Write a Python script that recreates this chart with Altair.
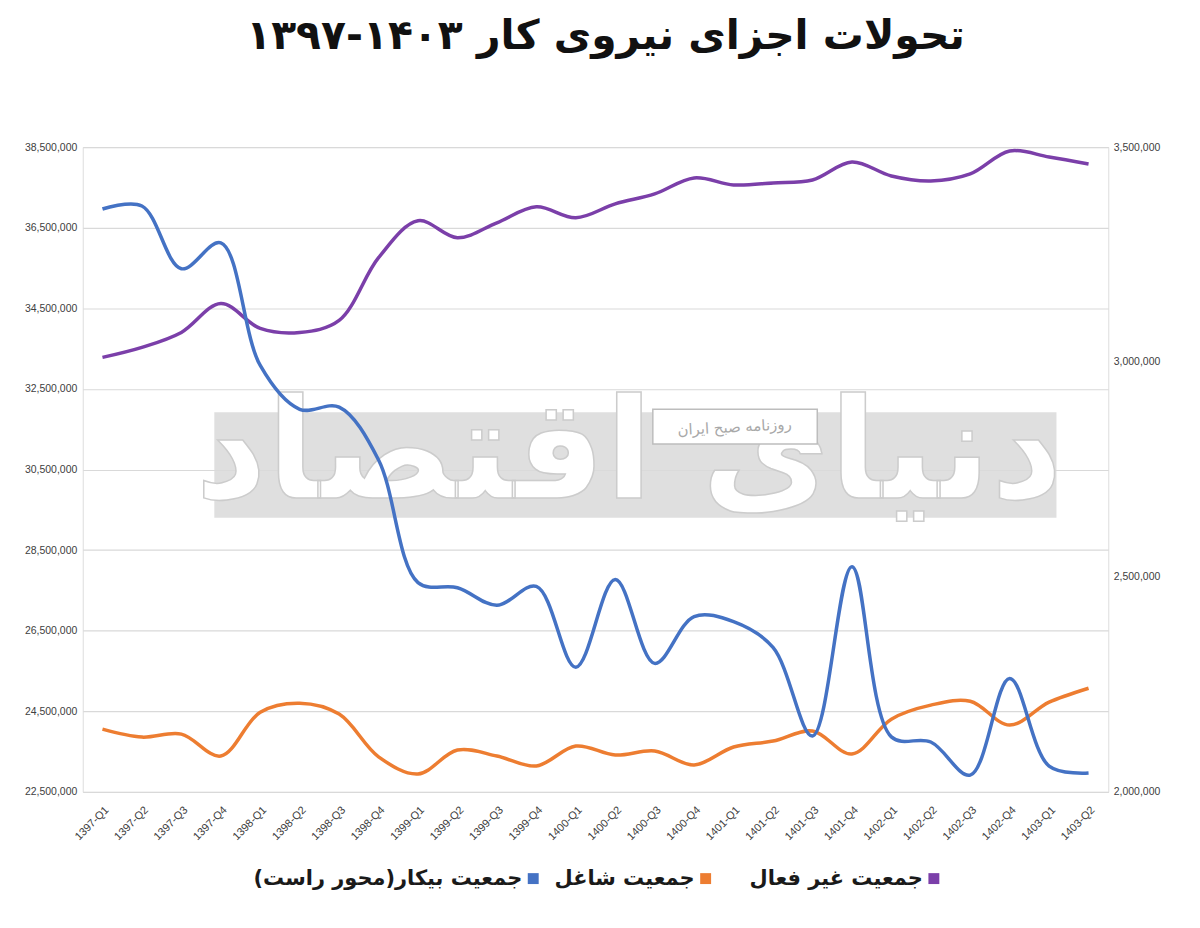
import altair as alt
import pandas as pd

quarters = [
    "1397-Q1", "1397-Q2", "1397-Q3", "1397-Q4",
    "1398-Q1", "1398-Q2", "1398-Q3", "1398-Q4",
    "1399-Q1", "1399-Q2", "1399-Q3", "1399-Q4",
    "1400-Q1", "1400-Q2", "1400-Q3", "1400-Q4",
    "1401-Q1", "1401-Q2", "1401-Q3", "1401-Q4",
    "1402-Q1", "1402-Q2", "1402-Q3", "1402-Q4",
    "1403-Q1", "1403-Q2",
]

# right axis
unemployed = [3356000, 3363000, 3217000, 3277000, 2992000, 2890000, 2895000, 2772000,
              2487000, 2475000, 2434000, 2478000, 2290000, 2494000, 2299000, 2408000,
              2396000, 2336000, 2130000, 2524000, 2128000, 2116000, 2039000, 2264000,
              2060000, 2044000]
# left axis
employed = [24058000, 23860000, 23934000, 23390000, 24478000, 24701000, 24430000, 23370000,
            22945000, 23539000, 23390000, 23143000, 23638000, 23415000, 23514000, 23168000,
            23613000, 23761000, 24009000, 23440000, 24305000, 24652000, 24750000, 24157000,
            24726000, 25072000]
inactive = [33282000, 33530000, 33901000, 34618000, 34000000, 33901000, 34197000, 35756000,
            36671000, 36250000, 36621000, 37017000, 36745000, 37091000, 37338000, 37734000,
            37561000, 37610000, 37684000, 38129000, 37783000, 37660000, 37833000, 38402000,
            38253000, 38080000]

name_unemp = "جمعیت بیکار(محور راست)"
name_emp = "جمعیت شاغل"
name_inact = "جمعیت غیر فعال"

series_names = [name_inact, name_emp, name_unemp]
series_colors = ["#7B3FA9", "#ED7D31", "#4472C4"]

left_ticks = [22500000, 24500000, 26500000, 28500000, 30500000, 32500000, 34500000, 36500000, 38500000]
right_ticks = [2000000, 2500000, 3000000, 3500000]

title_main = "تحولات اجزای نیروی کار"
title_years = "۱۳۹۷-۱۴۰۳"
watermark_big = "دنیای اقتصاد"
watermark_small = "روزنامه صبح ایران"

RLM = "\u200f"
RLE, LRE, PDF = "\u202b", "\u202a", "\u202c"

left_df = pd.DataFrame({
    "q": quarters * 2,
    "v": employed + inactive,
    "s": [name_emp] * len(quarters) + [name_inact] * len(quarters),
})
right_df = pd.DataFrame({"q": quarters, "v": unemployed, "s": name_unemp})

W, H = 1029, 647
label_font = "Liberation Sans"
ar_font = "DejaVu Sans"

x_enc = alt.X("q:O", sort=quarters, title=None,
              scale=alt.Scale(type="point", padding=0.5),
              axis=alt.Axis(labelAngle=-45, labelFontSize=11, labelColor="#404040",
                            labelFont=label_font, ticks=False, domain=False,
                            labelPadding=12))
color_enc = alt.Color("s:N", scale=alt.Scale(domain=series_names, range=series_colors), legend=None)

one = pd.DataFrame({"k": [0]})

wm_rect = alt.Chart(one).mark_rect(color="#d9d9d9", opacity=0.85).encode(
    x=alt.value(132), x2=alt.value(977), y=alt.value(266), y2=alt.value(372))
wm_big = alt.Chart(one).mark_text(
    text=RLM + watermark_big, font=ar_font, fontSize=140, fontWeight="bold",
    fill="white", stroke="#cccccc", strokeWidth=1.5, align="center", baseline="middle"
).encode(x=alt.value(548), y=alt.value(310))
wm_box = alt.Chart(one).mark_rect(fill="white", stroke="#bdbdbd", strokeWidth=1.5).encode(
    x=alt.value(572), x2=alt.value(737), y=alt.value(263), y2=alt.value(298))
wm_small = alt.Chart(one).mark_text(
    text=RLM + watermark_small, font=ar_font, fontSize=15, fill="#a8a8a8",
    align="center", baseline="middle", angle=357
).encode(x=alt.value(654), y=alt.value(281))

left_lines = alt.Chart(left_df).mark_line(strokeWidth=3.5, interpolate="catmull-rom").encode(
    x=x_enc,
    y=alt.Y("v:Q", title=None,
            scale=alt.Scale(domain=[22500000, 38500000], nice=False, zero=False),
            axis=alt.Axis(values=left_ticks, format=",d", labelFontSize=10.5,
                          labelColor="#404040", labelFont=label_font, ticks=False,
                          domain=False, grid=True, gridColor="#d9d9d9", gridWidth=1.2,
                          labelPadding=6)),
    color=color_enc,
    detail="s:N",
)

right_line = alt.Chart(right_df).mark_line(strokeWidth=3.5, interpolate="catmull-rom").encode(
    x=x_enc,
    y=alt.Y("v:Q", title=None,
            scale=alt.Scale(domain=[2000000, 3500000], nice=False, zero=False),
            axis=alt.Axis(orient="right", values=right_ticks, format=",d", labelFontSize=10.5,
                          labelColor="#404040", labelFont=label_font, ticks=False,
                          domain=False, grid=False, labelPadding=5)),
    color=color_enc,
)

# manual legend (symbol to the right of its label, right-to-left order)
leg_y = 734
legend_layers = []
for name, col, sq_x in zip(series_names, series_colors, [854, 625, 452]):
    legend_layers.append(
        alt.Chart(one).mark_square(size=120, color=col, opacity=1).encode(
            x=alt.value(sq_x), y=alt.value(leg_y)))
    legend_layers.append(
        alt.Chart(one).mark_text(text=RLM + name + RLM, font=ar_font, fontSize=21,
                                 fontWeight="bold", color="#1a1a1a", align="right",
                                 baseline="middle").encode(
            x=alt.value(sq_x - 11), y=alt.value(leg_y)))

plot = alt.layer(left_lines, right_line).resolve_scale(y="independent")

title_text = RLE + title_main + " " + LRE + title_years + PDF + PDF

chart = alt.layer(
    wm_rect, wm_big, wm_box, wm_small, plot, *legend_layers
).resolve_scale(y="independent").properties(
    width=W, height=H,
    autosize=alt.AutoSizeParams(type="none"),
    padding={"left": 75, "top": 138, "right": 84, "bottom": 127},
    title=alt.TitleParams(title_text, font=ar_font, fontSize=41, fontWeight="bold",
                          color="#111111", anchor="middle", offset=84, dx=10),
).configure_view(stroke=None).configure(background="white")

chart.save("out.html", embed_options={"renderer": "svg", "actions": False})
